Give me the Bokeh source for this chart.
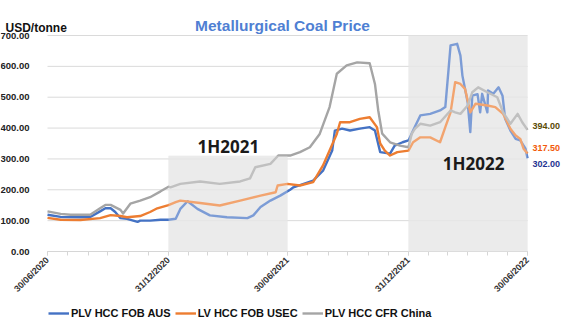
import pandas as pd
from math import pi
from bokeh.plotting import figure
from bokeh.models import (Range1d, FixedTicker, PrintfTickFormatter, DatetimeTickFormatter,
                          BoxAnnotation, Label, Legend, LegendItem, LinearAxis, DatetimeAxis)
from bokeh.embed import file_html
from bokeh.resources import INLINE

# ---------------- data ----------------
series_names = ["PLV HCC FOB AUS", "LV HCC FOB USEC", "PLV HCC CFR China"]

aus_dates = ["2020-06-30", "2020-07-20", "2020-08-19", "2020-09-03", "2020-09-18", "2020-09-26",
             "2020-10-04", "2020-10-11", "2020-10-19", "2020-10-29", "2020-11-14", "2020-11-18",
             "2020-12-03", "2020-12-19", "2020-12-31", "2021-01-11", "2021-01-18", "2021-01-29",
             "2021-02-13", "2021-03-04", "2021-03-30", "2021-04-30", "2021-05-09", "2021-05-20",
             "2021-06-04", "2021-06-19", "2021-07-04", "2021-07-09", "2021-08-08", "2021-08-23",
             "2021-09-06", "2021-09-10", "2021-09-21", "2021-10-03", "2021-10-18", "2021-11-02",
             "2021-11-10", "2021-11-18", "2021-12-03", "2021-12-10", "2021-12-22", "2021-12-31",
             "2022-01-07", "2022-01-18", "2022-02-02", "2022-02-17", "2022-02-25", "2022-03-02",
             "2022-03-05", "2022-03-15", "2022-03-20", "2022-03-23", "2022-03-31", "2022-04-04",
             "2022-04-07", "2022-04-15", "2022-04-19", "2022-04-22", "2022-04-30", "2022-05-01",
             "2022-05-09", "2022-05-17", "2022-05-23", "2022-05-27", "2022-06-04", "2022-06-12",
             "2022-06-19", "2022-06-27", "2022-06-30"]
aus_values = [119, 112, 111, 112, 130, 140,
              140, 128, 108, 106, 96, 100,
              100, 103, 103, 106, 138, 163,
              138, 117, 111, 108, 117, 144,
              165, 181, 200, 208, 230, 262,
              327, 392, 398, 392, 398, 403,
              392, 322, 317, 343, 354, 360,
              392, 441, 446, 457, 468, 592,
              668, 673, 635, 570, 484, 387,
              505, 510, 451, 511, 451, 522,
              511, 532, 505, 430, 392, 365,
              360, 333, 302]

usec_dates = ["2020-06-30", "2020-07-20", "2020-08-19", "2020-09-18", "2020-10-04", "2020-10-19",
              "2020-10-29", "2020-11-18", "2020-12-03", "2020-12-14", "2020-12-31", "2021-01-11",
              "2021-01-18", "2021-02-17", "2021-03-19", "2021-04-19", "2021-05-20", "2021-06-12",
              "2021-06-15", "2021-06-30", "2021-07-19", "2021-08-08", "2021-08-23", "2021-09-02",
              "2021-09-13", "2021-09-18", "2021-10-03", "2021-10-18", "2021-11-02", "2021-11-13",
              "2021-11-18", "2021-11-25", "2021-12-03", "2021-12-14", "2021-12-31", "2022-01-07",
              "2022-01-18", "2022-02-02", "2022-02-17", "2022-02-25", "2022-03-05", "2022-03-12",
              "2022-03-20", "2022-03-27", "2022-04-04", "2022-04-12", "2022-04-30", "2022-05-12",
              "2022-05-24", "2022-06-04", "2022-06-12", "2022-06-19", "2022-06-24", "2022-06-30"]
usec_values = [109, 103, 102, 108, 118, 115,
               111, 115, 128, 140, 150, 160,
               165, 157, 149, 165, 181, 192,
               214, 219, 214, 225, 279, 327,
               381, 419, 419, 430, 435, 403,
               350, 327, 311, 322, 327, 354,
               370, 370, 354, 403, 451, 549,
               543, 527, 451, 479, 473, 468,
               446, 398, 376, 365, 333, 317.5]

china_dates = ["2020-06-30", "2020-07-20", "2020-08-04", "2020-09-03", "2020-09-18", "2020-09-26",
               "2020-10-04", "2020-10-19", "2020-10-23", "2020-11-03", "2020-11-18", "2020-12-03",
               "2020-12-19", "2020-12-31", "2021-01-03", "2021-01-18", "2021-02-17", "2021-03-19",
               "2021-04-19", "2021-05-04", "2021-05-12", "2021-06-04", "2021-06-16", "2021-07-04",
               "2021-07-19", "2021-08-03", "2021-08-18", "2021-09-02", "2021-09-13", "2021-09-28",
               "2021-10-14", "2021-11-02", "2021-11-10", "2021-11-15", "2021-11-21", "2021-12-03",
               "2021-12-18", "2021-12-31", "2022-01-05", "2022-01-10", "2022-01-18", "2022-02-02",
               "2022-02-17", "2022-03-05", "2022-03-12", "2022-03-20", "2022-03-31", "2022-04-07",
               "2022-04-16", "2022-04-30", "2022-05-15", "2022-05-24", "2022-06-04", "2022-06-15",
               "2022-06-22", "2022-06-30"]
china_values = [130, 122, 119, 119, 140, 151,
                151, 135, 123, 155, 165, 176,
                195, 210, 208, 219, 227, 219,
                227, 237, 273, 284, 311, 311,
                322, 338, 381, 468, 576, 603,
                613, 610, 543, 457, 382, 354,
                343, 338, 382, 398, 414, 408,
                419, 457, 451, 446, 473, 516,
                532, 516, 500, 451, 414, 446,
                419, 394]

half_year_ticks = ["2020-06-30", "2020-12-31", "2021-06-30", "2021-12-31", "2022-06-30"]
y_ticks = [0, 100, 200, 300, 400, 500, 600, 700]
shade_periods = [("2020-12-31", "2021-06-30", 310, "1H2021", "2021-04-01", 340),
                 ("2021-12-31", "2022-06-30", 700, "1H2022", "2022-04-09", 285)]
end_labels = [("394.00", 394, "#5a4a05", 4), ("317.50", 317.5, "#f25a0a", 6), ("302.00", 302, "#1f3491", -6)]
title_text = "Metallurgical Coal Price"
unit_text = "USD/tonne"

colors = ["#4472C4", "#ED7D31", "#A5A5A5"]
FONT = "Liberation Sans"

# ---------------- layout (pixels of the 570x329 canvas) ----------------
W, H = 570, 329
PL, PR, PT, PB = 47, 527, 35, 251   # plotting area edges


def ms(d):
    return pd.Timestamp(d).value / 1e6


x0, x1 = ms(half_year_ticks[0]), ms(half_year_ticks[-1])
y0, y1 = y_ticks[0], y_ticks[-1]
kx = (x1 - x0) / (PR - PL)
ky = (y1 - y0) / (PB - PT)

p = figure(width=W, height=H, output_backend="svg", toolbar_location=None,
           x_axis_location=None, y_axis_location=None, title=None,
           x_range=Range1d(x0 - PL * kx, x1 + (W - PR) * kx),
           y_range=Range1d(y0 - (H - PB) * ky, y1 + PT * ky),
           min_border_left=0, min_border_right=0, min_border_top=0, min_border_bottom=0)
p.outline_line_color = None
p.background_fill_color = "white"
p.border_fill_color = "white"
p.xgrid.visible = False
p.ygrid.visible = False

# shading (under the lines)
for left, right, top, _, _, _ in shade_periods:
    p.add_layout(BoxAnnotation(left=ms(left), right=ms(right), bottom=0, top=top,
                               fill_color="#e2e2e2", fill_alpha=1.0, line_color=None, level="underlay"))

# horizontal grid lines at the y ticks, spanning the plotting period
p.segment(x0=[x0] * len(y_ticks), x1=[x1] * len(y_ticks), y0=y_ticks, y1=y_ticks,
          line_color="#dadada", line_width=1)

# lines
all_dates = [aus_dates, usec_dates, china_dates]
all_values = [aus_values, usec_values, china_values]
renderers = []
for d, v, c in zip(all_dates, all_values, colors):
    r = p.line(x=pd.to_datetime(d), y=v, line_color=c, line_width=2.4, line_join="round")
    renderers.append(r)

# translucent veil over shaded periods (lines appear lighter inside)
for left, right, top, _, _, _ in shade_periods:
    p.add_layout(BoxAnnotation(left=ms(left), right=ms(right), bottom=0, top=top,
                               fill_color="white", fill_alpha=0.3, line_color=None, level="annotation"))

# period labels
for _, _, _, txt, lx, ly in shade_periods:
    p.add_layout(Label(x=ms(lx), y=ly, text=txt, text_align="center", text_baseline="middle",
                       text_font="Open Sans", text_font_size="17px", text_font_style="bold",
                       text_color="#1a1a1a"))

# end labels
for txt, val, col, off in end_labels:
    p.add_layout(Label(x=x1, y=val, x_offset=5, y_offset=off, text=txt,
                       text_align="left", text_baseline="middle", text_font=FONT,
                       text_font_size="9px", text_font_style="bold", text_color=col))

# title and unit label
p.add_layout(Label(x=282, y=H - 25, x_units="screen", y_units="screen", text=title_text,
                   text_align="center", text_baseline="alphabetic", text_font=FONT,
                   text_font_size="15.5px", text_font_style="bold", text_color="#4f7fd3"))
p.add_layout(Label(x=5, y=H - 27, x_units="screen", y_units="screen", text=unit_text,
                   text_align="left", text_baseline="alphabetic", text_font=FONT,
                   text_font_size="12px", text_font_style="bold", text_color="#111111"))

# y axis
yaxis = LinearAxis(fixed_location=x0, ticker=FixedTicker(ticks=y_ticks),
                   formatter=PrintfTickFormatter(format="%.2f"))
yaxis.axis_line_color = None
yaxis.major_tick_line_color = None
yaxis.minor_tick_line_color = None
yaxis.major_label_standoff = 12
yaxis.major_label_text_font = FONT
yaxis.major_label_text_font_size = "9.5px"
yaxis.major_label_text_font_style = "bold"
yaxis.major_label_text_color = "#222222"
p.add_layout(yaxis, "left")

# x axis
month_ends = [ms(d) for d in pd.date_range(half_year_ticks[0], half_year_ticks[-1], freq="ME")]
xaxis = DatetimeAxis(fixed_location=y0, bounds=(x0, x1),
                     ticker=FixedTicker(ticks=[ms(d) for d in half_year_ticks], minor_ticks=month_ends),
                     formatter=DatetimeTickFormatter(days="%d/%m/%Y", months="%d/%m/%Y", years="%d/%m/%Y"))
xaxis.major_label_orientation = pi / 4
xaxis.axis_line_color = "#d6d6d6"
xaxis.major_tick_line_color = "#d6d6d6"
xaxis.minor_tick_line_color = "#d6d6d6"
xaxis.major_tick_in = 0
xaxis.major_tick_out = 4
xaxis.minor_tick_in = 0
xaxis.minor_tick_out = 4
xaxis.major_label_standoff = 3
xaxis.major_label_text_font = FONT
xaxis.major_label_text_font_size = "9px"
xaxis.major_label_text_font_style = "bold"
xaxis.major_label_text_color = "#333333"
p.add_layout(xaxis, "below")

# legend
items = [LegendItem(label=n, renderers=[r]) for n, r in zip(series_names, renderers)]
legend = Legend(items=items, orientation="horizontal", location=(PL + 1, 10),
                label_text_font=FONT, label_text_font_size="11px", label_text_font_style="bold",
                label_text_color="#111111", glyph_width=21, glyph_height=12, label_standoff=2,
                spacing=4, padding=2, margin=0, border_line_color=None, background_fill_alpha=0)
p.add_layout(legend, "center")

open("out.html", "w").write(file_html(p, INLINE))
